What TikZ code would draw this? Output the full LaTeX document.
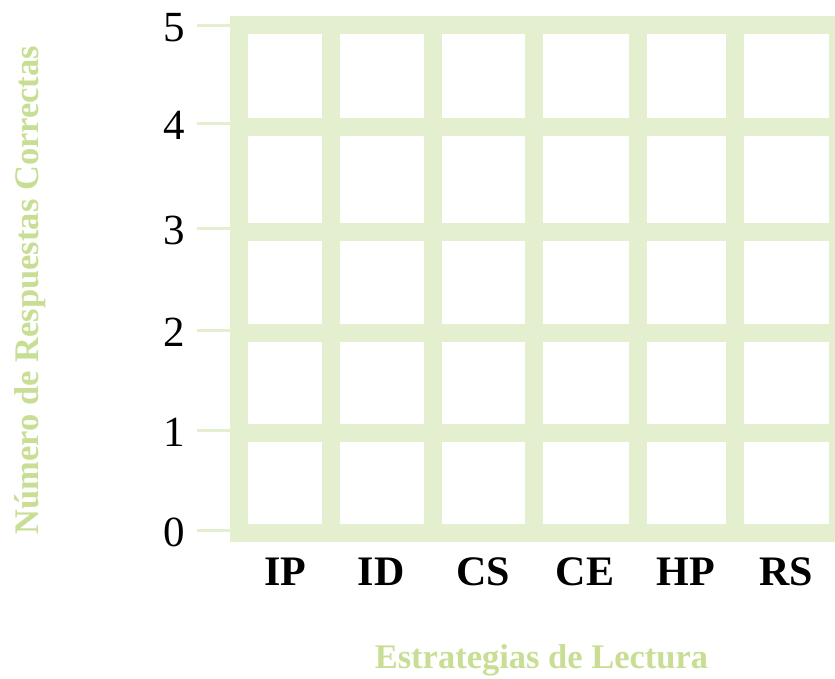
\documentclass[tikz,border=0pt]{standalone}
\usepackage{fontspec}
\setmainfont{Liberation Serif}
\definecolor{gridgreen}{RGB}{227,239,206}
\definecolor{titlegreen}{RGB}{200,222,148}
\tikzset{
    gridbar/.style={gridgreen, line width=18pt},
    tickline/.style={gridgreen, line width=3pt},
    numlabel/.style={anchor=east, inner sep=0pt, font=\fontsize{43}{48}\selectfont},
    catlabel/.style={anchor=base, inner sep=0pt, font=\fontsize{42}{48}\selectfont\bfseries},
    axistitle/.style={inner sep=0pt, text=titlegreen, font=\fontsize{34.5}{40}\selectfont\bfseries}
}
\begin{document}
\begin{tikzpicture}[x=1pt,y=-1pt]
    \useasboundingbox (0,0) rectangle (835,678);
    \foreach \y in {25,126.5,231.5,333,433,532.5}
        \draw[gridbar] (230,\y) -- (847,\y);
    \foreach \x in {239,330.5,433,534,638,735,838}
        \draw[gridbar] (\x,16) -- (\x,542);
    \foreach \v/\y in {0/530,1/430,2/330,3/228,4/123,5/25} {
        \draw[tickline] (197,\y) -- (230,\y);
        \node[numlabel] (num\v) at (185,\y+2.5) {\v};
    }
    \foreach \c/\x in {IP/285,ID/381,CS/483.5,CE/585,HP/686,RS/786}
        \node[catlabel] (cat\c) at (\x,585) {\c};
    \node[axistitle, anchor=base] (xtitle) at (541.5,668) {Estrategias de Lectura};
    \node[axistitle, rotate=90] (ytitle) at (30,290) {Número de Respuestas Correctas};
\end{tikzpicture}
\end{document}
